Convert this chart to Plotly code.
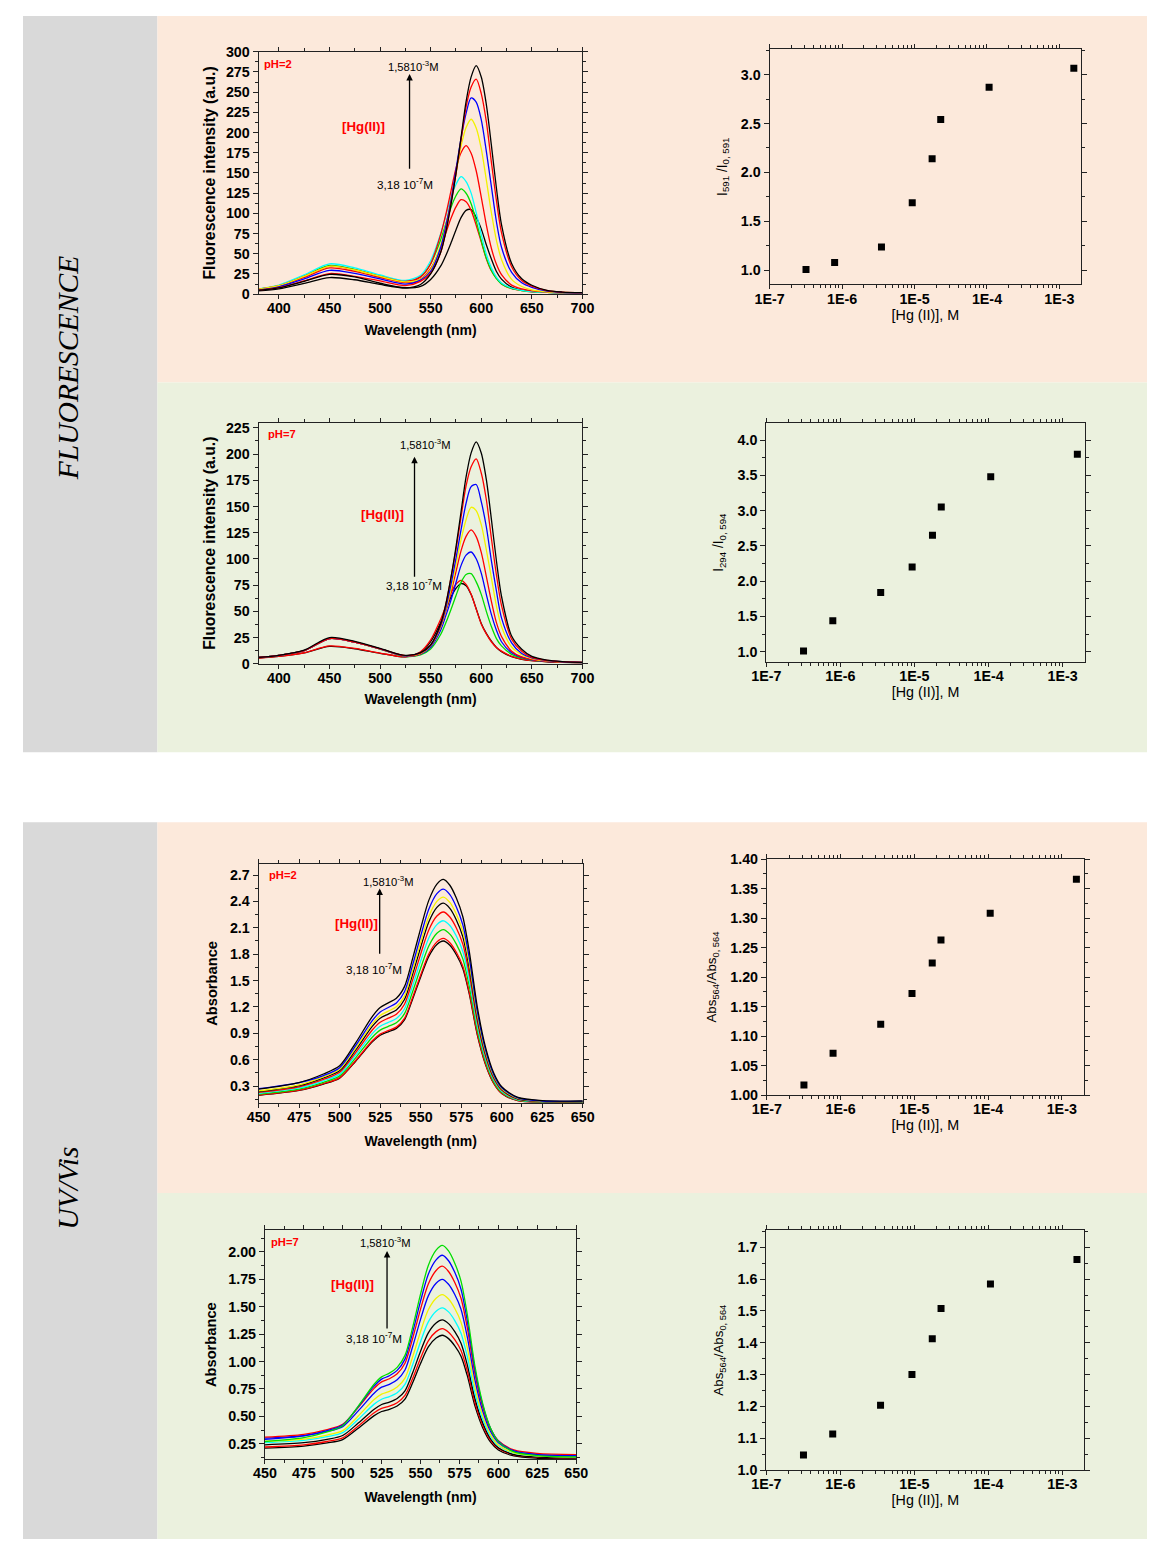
import plotly.graph_objects as go

# Figure size (fits the window together with the page margin)
W, H = 1151, 1539
# measured mapping of figure pixels to the photographed picture: pic = A + S * fig
AX, SX = 21.0, 0.981
AY, SY = 15.0, 0.988

# ------------------------------------------------------------------ data
# Fluorescence spectra (wavelength grid, nm)
fl_wl = [380, 400, 425, 450, 475, 500, 525, 540, 550, 560, 565, 570, 575, 580, 585,
         590, 595, 600, 605, 610, 615, 620, 630, 640, 650, 665, 680, 700]

# pH = 2, from lowest [Hg(II)] to highest
fl2_black1 = [4.2, 6.6, 13.3, 20.5, 17.8, 12.0, 7.5, 9.5, 18.1, 34.9, 47.9, 63.1, 79.4, 94.7, 103.7, 104.6, 95.2, 80.8, 61.1, 43.5, 28.0, 18.6, 8.6, 4.9, 3.2, 2.2, 1.8, 1.6]
fl2_red1 = [5.8, 9.9, 20.7, 32.5, 28.2, 20.6, 14.4, 18.6, 31.8, 57.9, 75.6, 93.5, 108.0, 116.9, 114.3, 103.7, 85.3, 64.7, 43.9, 28.9, 19.7, 12.7, 6.8, 4.4, 2.9, 2.2, 1.8, 1.6]
fl2_green = [6.3, 10.7, 22.6, 35.5, 30.7, 22.4, 15.9, 21.6, 37.5, 67.6, 87.1, 106.9, 121.8, 130.2, 124.9, 111.9, 90.3, 66.2, 44.6, 29.4, 19.1, 12.6, 7.0, 4.5, 3.1, 2.3, 1.8, 1.6]
fl2_cyan = [6.5, 11.2, 23.8, 37.5, 32.5, 23.7, 16.9, 23.5, 41.4, 75.3, 97.2, 119.3, 135.8, 145.4, 139.4, 125.0, 100.8, 73.8, 49.6, 32.5, 21.1, 13.9, 7.6, 4.8, 3.3, 2.3, 1.8, 1.6]
fl2_red2 = [6.1, 10.4, 22.0, 34.5, 29.9, 22.0, 15.7, 21.4, 37.7, 74.2, 98.7, 127.2, 155.7, 175.1, 183.8, 174.5, 152.7, 120.2, 85.8, 56.8, 36.9, 24.1, 11.2, 6.5, 4.0, 2.5, 2.0, 1.7]
fl2_yellow = [6.1, 10.4, 22.0, 34.5, 29.9, 21.9, 15.3, 18.4, 30.5, 61.2, 86.0, 115.6, 149.3, 183.0, 206.2, 216.5, 205.7, 180.0, 141.5, 100.8, 66.6, 43.0, 18.2, 9.5, 5.4, 3.0, 2.1, 1.7]
fl2_blue = [5.4, 9.1, 18.9, 29.5, 25.6, 18.8, 12.5, 17.4, 28.1, 58.3, 84.5, 115.6, 154.0, 192.5, 223.7, 242.8, 237.7, 215.9, 177.0, 133.3, 89.6, 58.0, 27.0, 14.0, 8.5, 3.8, 2.3, 1.7]
fl2_red3 = [4.9, 8.0, 16.4, 25.5, 22.1, 16.4, 10.5, 15.8, 25.9, 52.1, 78.0, 112.1, 148.9, 190.8, 231.6, 256.3, 266.0, 248.2, 213.8, 163.5, 115.8, 76.1, 34.0, 17.0, 10.0, 4.5, 2.5, 1.8]
fl2_black2 = [4.7, 7.7, 15.8, 24.5, 21.3, 13.5, 8.0, 12.0, 25.0, 52.1, 76.8, 110.2, 149.2, 193.7, 238.3, 268.9, 282.8, 268.7, 234.9, 184.4, 131.1, 86.2, 38.0, 19.0, 11.0, 4.6, 2.6, 1.8]

# pH = 7
fl7_black1 = [5.5, 7.0, 10.3, 16.5, 14.3, 10.0, 6.5, 10.8, 21.0, 39.5, 51.5, 63.5, 72.0, 76.5, 74.5, 66.0, 52.5, 38.5, 29.0, 21.5, 15.5, 11.5, 6.8, 4.3, 2.9, 1.9, 1.4, 1.1]
fl7_red1 = [5.5, 7.0, 10.5, 17.0, 14.6, 10.2, 6.7, 11.5, 22.7, 42.7, 55.0, 67.3, 75.8, 79.6, 75.7, 66.2, 52.1, 38.0, 28.5, 21.0, 15.5, 12.0, 7.0, 4.5, 3.0, 2.0, 1.5, 1.2]
fl7_green = [6.0, 8.0, 12.5, 24.0, 20.6, 14.0, 7.0, 8.5, 14.1, 28.1, 39.0, 51.5, 64.9, 77.6, 85.1, 85.9, 78.1, 66.2, 50.0, 35.5, 24.0, 17.0, 9.0, 5.5, 3.5, 2.2, 1.5, 1.1]
fl7_blue1 = [6.0, 8.0, 12.5, 24.0, 20.6, 14.1, 7.3, 9.1, 15.8, 32.3, 45.9, 60.5, 77.3, 93.6, 103.6, 106.6, 100.2, 86.4, 66.2, 47.1, 32.0, 21.0, 10.5, 6.0, 3.8, 2.3, 1.6, 1.1]
fl7_red2 = [6.0, 8.0, 12.5, 24.0, 20.6, 14.2, 7.5, 9.5, 17.0, 35.4, 50.3, 67.7, 87.7, 107.7, 121.5, 127.7, 121.3, 106.2, 83.4, 59.5, 39.2, 26.0, 12.0, 6.5, 4.0, 2.4, 1.6, 1.1]
fl7_yellow = [6.0, 8.0, 12.5, 24.0, 20.6, 14.2, 7.5, 9.8, 17.1, 35.4, 51.6, 70.7, 94.4, 118.1, 137.4, 149.2, 146.1, 132.7, 108.8, 82.0, 55.0, 35.6, 16.0, 8.7, 5.0, 2.8, 1.8, 1.2]
fl7_blue2 = [6.0, 8.0, 12.5, 24.0, 20.6, 14.2, 7.6, 10.3, 17.6, 36.6, 53.4, 75.3, 100.6, 127.7, 153.1, 169.0, 171.0, 154.6, 130.7, 98.4, 69.4, 43.8, 20.0, 9.7, 5.5, 3.0, 1.9, 1.2]
fl7_red3 = [6.0, 8.0, 12.5, 24.0, 20.6, 14.2, 7.7, 10.4, 18.0, 37.5, 56.7, 81.7, 108.7, 139.6, 169.6, 187.9, 195.5, 182.0, 156.7, 119.8, 84.8, 55.6, 23.5, 11.9, 6.0, 3.2, 2.0, 1.3]
fl7_black2 = [6.0, 8.0, 13.0, 25.0, 21.4, 14.7, 7.9, 10.6, 17.9, 38.4, 57.0, 82.0, 111.3, 144.8, 178.2, 201.2, 211.7, 201.1, 175.8, 138.0, 98.0, 64.4, 26.4, 13.8, 7.0, 3.5, 2.1, 1.3]

# UV/Vis spectra
uv_wl = [450, 475, 490, 500, 510, 520, 525, 530, 535, 540, 545, 550, 555, 560, 564,
         568, 572, 576, 580, 585, 590, 595, 600, 610, 625, 650]

# pH = 2, from highest to lowest peak
uv2_black1 = [0.265, 0.339, 0.437, 0.530, 0.795, 1.087, 1.193, 1.246, 1.299, 1.431, 1.749, 2.094, 2.412, 2.597, 2.650, 2.584, 2.438, 2.226, 1.829, 1.193, 0.742, 0.451, 0.292, 0.170, 0.135, 0.130]
uv2_blue = [0.270, 0.340, 0.419, 0.508, 0.762, 1.041, 1.143, 1.194, 1.245, 1.372, 1.676, 2.007, 2.311, 2.489, 2.540, 2.477, 2.337, 2.134, 1.753, 1.143, 0.711, 0.432, 0.279, 0.165, 0.130, 0.128]
uv2_yellow = [0.245, 0.314, 0.404, 0.490, 0.735, 1.005, 1.103, 1.152, 1.201, 1.323, 1.617, 1.936, 2.230, 2.401, 2.450, 2.389, 2.254, 2.058, 1.691, 1.103, 0.686, 0.417, 0.270, 0.160, 0.128, 0.125]
uv2_black2 = [0.238, 0.305, 0.393, 0.476, 0.714, 0.976, 1.071, 1.119, 1.166, 1.285, 1.571, 1.880, 2.166, 2.332, 2.380, 2.321, 2.190, 1.999, 1.642, 1.071, 0.666, 0.405, 0.262, 0.155, 0.125, 0.122]
uv2_red1 = [0.228, 0.292, 0.376, 0.456, 0.684, 0.935, 1.026, 1.072, 1.117, 1.231, 1.505, 1.801, 2.075, 2.234, 2.280, 2.223, 2.098, 1.915, 1.573, 1.026, 0.638, 0.388, 0.251, 0.150, 0.122, 0.120]
uv2_cyan = [0.218, 0.279, 0.360, 0.436, 0.654, 0.894, 0.981, 1.025, 1.068, 1.177, 1.439, 1.722, 1.984, 2.136, 2.180, 2.126, 2.006, 1.831, 1.504, 0.981, 0.610, 0.371, 0.240, 0.145, 0.120, 0.118]
uv2_green = [0.208, 0.266, 0.343, 0.416, 0.624, 0.853, 0.936, 0.978, 1.019, 1.123, 1.373, 1.643, 1.893, 2.038, 2.080, 2.028, 1.914, 1.747, 1.435, 0.936, 0.582, 0.354, 0.229, 0.140, 0.118, 0.116]
uv2_red2 = [0.198, 0.253, 0.327, 0.396, 0.594, 0.812, 0.891, 0.931, 0.970, 1.069, 1.307, 1.564, 1.802, 1.940, 1.980, 1.931, 1.822, 1.663, 1.366, 0.891, 0.554, 0.337, 0.218, 0.135, 0.116, 0.115]
uv2_black3 = [0.195, 0.250, 0.322, 0.390, 0.585, 0.800, 0.878, 0.917, 0.956, 1.053, 1.287, 1.541, 1.775, 1.911, 1.950, 1.901, 1.794, 1.638, 1.346, 0.878, 0.546, 0.332, 0.215, 0.133, 0.115, 0.114]

# pH = 7, from highest to lowest peak
uv7_green = [0.270, 0.306, 0.358, 0.414, 0.593, 0.790, 0.860, 0.894, 0.947, 1.056, 1.316, 1.615, 1.877, 2.016, 2.060, 2.009, 1.896, 1.734, 1.433, 0.953, 0.614, 0.391, 0.269, 0.176, 0.142, 0.130]
uv7_blue1 = [0.290, 0.322, 0.369, 0.421, 0.588, 0.773, 0.839, 0.870, 0.919, 1.022, 1.269, 1.551, 1.797, 1.928, 1.970, 1.920, 1.814, 1.660, 1.376, 0.922, 0.600, 0.389, 0.273, 0.185, 0.151, 0.140]
uv7_red1 = [0.310, 0.336, 0.379, 0.427, 0.582, 0.753, 0.814, 0.843, 0.888, 0.984, 1.215, 1.478, 1.708, 1.831, 1.870, 1.822, 1.722, 1.578, 1.312, 0.886, 0.583, 0.385, 0.277, 0.193, 0.161, 0.150]
uv7_blue2 = [0.300, 0.323, 0.362, 0.406, 0.550, 0.709, 0.766, 0.792, 0.834, 0.923, 1.139, 1.385, 1.599, 1.714, 1.750, 1.705, 1.611, 1.477, 1.227, 0.829, 0.546, 0.361, 0.259, 0.181, 0.151, 0.140]
uv7_yellow = [0.270, 0.292, 0.329, 0.369, 0.503, 0.651, 0.702, 0.727, 0.767, 0.849, 1.046, 1.273, 1.472, 1.577, 1.610, 1.570, 1.484, 1.359, 1.130, 0.763, 0.504, 0.333, 0.239, 0.167, 0.140, 0.130]
uv7_cyan = [0.260, 0.280, 0.314, 0.351, 0.473, 0.609, 0.656, 0.680, 0.715, 0.791, 0.973, 1.181, 1.362, 1.459, 1.490, 1.453, 1.374, 1.259, 1.048, 0.712, 0.473, 0.317, 0.231, 0.164, 0.139, 0.130]
uv7_black1 = [0.240, 0.259, 0.290, 0.325, 0.438, 0.563, 0.608, 0.629, 0.662, 0.732, 0.900, 1.094, 1.262, 1.352, 1.380, 1.346, 1.272, 1.167, 0.972, 0.659, 0.438, 0.293, 0.213, 0.151, 0.129, 0.120]
uv7_red2 = [0.220, 0.240, 0.270, 0.303, 0.411, 0.530, 0.572, 0.592, 0.624, 0.690, 0.848, 1.030, 1.189, 1.273, 1.300, 1.268, 1.199, 1.100, 0.917, 0.624, 0.417, 0.281, 0.206, 0.149, 0.127, 0.120]
uv7_black2 = [0.210, 0.228, 0.257, 0.288, 0.391, 0.504, 0.544, 0.563, 0.594, 0.657, 0.808, 0.982, 1.134, 1.214, 1.240, 1.209, 1.143, 1.049, 0.873, 0.593, 0.394, 0.264, 0.193, 0.138, 0.117, 0.110]

# Titration curves
hg_conc = [3.18e-7, 7.9e-7, 3.5e-6, 9.3e-6, 1.75e-5, 2.3e-5, 1.07e-4, 1.58e-3]
fl2_ratio = [1.01, 1.08, 1.24, 1.69, 2.14, 2.54, 2.87, 3.065]
fl7_ratio = [1.01, 1.44, 1.84, 2.20, 2.65, 3.05, 3.48, 3.80]
uv2_ratio = [1.017, 1.071, 1.120, 1.172, 1.224, 1.263, 1.308, 1.366]
uv7_ratio = [1.047, 1.113, 1.204, 1.300, 1.413, 1.508, 1.585, 1.662]

log_tickvals = [1e-7, 1e-6, 1e-5, 1e-4, 1e-3]
log_ticktext = ["1E-7", "1E-6", "1E-5", "1E-4", "1E-3"]

# ------------------------------------------------------------------ styling
BLACK, RED, GREEN, CYAN, BLUE, YELLOW = "#000000", "#FF0000", "#00DD00", "#00FFFF", "#0000FF", "#F2F200"
PEACH, LGREEN, GRAY = "#FCE9DB", "#EBF1DE", "#D9D9D9"
FONT = "Arial, Liberation Sans, sans-serif"
AXCOL = "#222222"
FS = 1.0 / SX  # font compensation


def px_x(x):
    return ((x - AX) / SX) / W


def px_y(y):
    return 1 - ((y - AY) / SY) / H


def fnt(size, bold=False, color="black", family=FONT):
    return dict(family=family, size=round(size * FS, 1), color=color, weight="bold" if bold else "normal")


fig = go.Figure()

spectra_sets = [
    (1, fl_wl, [(fl2_black1, BLACK), (fl2_red1, RED), (fl2_green, GREEN), (fl2_cyan, CYAN),
                (fl2_red2, RED), (fl2_yellow, YELLOW), (fl2_blue, BLUE), (fl2_red3, RED), (fl2_black2, BLACK)]),
    (3, fl_wl, [(fl7_black1, BLACK), (fl7_red1, RED), (fl7_green, GREEN), (fl7_blue1, BLUE),
                (fl7_red2, RED), (fl7_yellow, YELLOW), (fl7_blue2, BLUE), (fl7_red3, RED), (fl7_black2, BLACK)]),
    (5, uv_wl, [(uv2_black3, BLACK), (uv2_red2, RED), (uv2_green, GREEN), (uv2_cyan, CYAN), (uv2_red1, RED),
                (uv2_black2, BLACK), (uv2_yellow, YELLOW), (uv2_blue, BLUE), (uv2_black1, BLACK)]),
    (7, uv_wl, [(uv7_black2, BLACK), (uv7_red2, RED), (uv7_black1, BLACK), (uv7_cyan, CYAN), (uv7_yellow, YELLOW),
                (uv7_blue2, BLUE), (uv7_red1, RED), (uv7_blue1, BLUE), (uv7_green, GREEN)]),
]
for idx, wl, curves in spectra_sets:
    for ys, col in curves:
        fig.add_trace(go.Scatter(x=wl, y=ys, mode="lines",
                                 line=dict(color=col, width=1.3, shape="spline", smoothing=0.8),
                                 xaxis=f"x{idx}", yaxis=f"y{idx}", showlegend=False, hoverinfo="skip"))

for idx, ys in [(2, fl2_ratio), (4, fl7_ratio), (6, uv2_ratio), (8, uv7_ratio)]:
    fig.add_trace(go.Scatter(x=hg_conc, y=ys, mode="markers",
                             marker=dict(symbol="square", size=7, color="black"),
                             xaxis=f"x{idx}", yaxis=f"y{idx}", showlegend=False))

# axis frames: (left, right, top, bottom) in picture pixels
frames = {
    1: (257.7, 583.0, 50.7, 292.7),
    2: (771.0, 1084.0, 48.0, 283.0),
    3: (257.7, 583.0, 421.0, 661.7),
    4: (767.7, 1087.7, 421.7, 660.0),
    5: (257.7, 583.3, 861.7, 1100.0),
    6: (768.3, 1086.7, 856.7, 1092.3),
    7: (264.0, 576.7, 1227.3, 1455.7),
    8: (767.7, 1087.3, 1227.3, 1466.7),
}

minor_log = [m * 10 ** e for e in range(-7, -2) for m in range(2, 10)]

tickf = fnt(14, True)
common = dict(showline=True, linecolor=AXCOL, linewidth=1, mirror="allticks", ticks="outside",
              ticklen=5, tickcolor=AXCOL, showgrid=False, zeroline=False, tickfont=tickf)


def mnr(d):
    return dict(dtick=d, ticks="outside", ticklen=3, tickcolor=AXCOL)


layout_axes = {}
for idx, (l, r, t, b) in frames.items():
    xd = [px_x(l), px_x(r)]
    yd = [px_y(b), px_y(t)]
    xa = dict(common, domain=xd, anchor=f"y{idx}", ticklen=4, ticklabelstandoff=-3)
    ya = dict(common, domain=yd, anchor=f"x{idx}")
    if idx in (1, 3):
        xa.update(range=[380, 700], dtick=50, tick0=400, minor=mnr(25),
                  title=dict(text="Wavelength (nm)", font=fnt(13.7, True), standoff=9))
        ya.update(range=[0, 300 if idx == 1 else 230], dtick=25, tick0=0, minor=mnr(12.5),
                  title=dict(text="Fluorescence intensity (a.u.)", font=fnt(15.5, True), standoff=6))
    elif idx in (5, 7):
        xa.update(range=[450, 650], dtick=25, tick0=450, minor=mnr(12.5),
                  title=dict(text="Wavelength (nm)", font=fnt(13.7, True), standoff=12))
        if idx == 5:
            ya.update(range=[0.11, 2.825], dtick=0.3, tick0=0.3, tickformat=".1f", minor=mnr(0.15))
        else:
            ya.update(range=[0.11, 2.198], dtick=0.25, tick0=0.25, tickformat=".2f", minor=mnr(0.125))
        ya.update(title=dict(text="Absorbance", font=fnt(14.4, True), standoff=8))
    else:
        xa.update(type="log", range=[-7, -2.7], tickmode="array", tickvals=log_tickvals, ticktext=log_ticktext,
                  minor=dict(tickmode="array", tickvals=minor_log, ticks="outside", ticklen=3, tickcolor=AXCOL),
                  title=dict(text="[Hg (II)], M", font=fnt(14), standoff=3))
        if idx == 2:
            ya.update(range=[0.857, 3.26], dtick=0.5, tick0=1.0, tickformat=".1f", minor=mnr(0.25),
                      title=dict(text="I<sub>591</sub> /I<sub>0, 591</sub>", font=fnt(13.5), standoff=10))
        elif idx == 4:
            ya.update(range=[0.853, 4.237], dtick=0.5, tick0=1.0, tickformat=".1f", minor=mnr(0.25),
                      title=dict(text="I<sub>294</sub> /I<sub>0, 594</sub>", font=fnt(13.5), standoff=10))
        elif idx == 6:
            ya.update(range=[1.0, 1.40], dtick=0.05, tick0=1.0, tickformat=".2f", minor=mnr(0.025),
                      title=dict(text="Abs<sub>564</sub>/Abs<sub>0, 564</sub>", font=fnt(13), standoff=10))
        else:
            ya.update(range=[1.0, 1.7535], dtick=0.1, tick0=1.0, tickformat=".1f", minor=mnr(0.05),
                      title=dict(text="Abs<sub>564</sub>/Abs<sub>0, 564</sub>", font=fnt(13), standoff=10))
    name = "" if idx == 1 else str(idx)
    layout_axes[f"xaxis{name}"] = xa
    layout_axes[f"yaxis{name}"] = ya

# background panels
shapes = []


def rect(x0, y0, x1, y1, col):
    shapes.append(dict(type="rect", xref="paper", yref="paper", x0=max(px_x(x0), 0), x1=min(px_x(x1), 1),
                       y0=max(px_y(y1), 0), y1=min(px_y(y0), 1), fillcolor=col, line=dict(width=0), layer="below"))


rect(7, 11, 156, 750, GRAY)
rect(156, 11, 1159, 381, PEACH)
rect(156, 381, 1159, 750, LGREEN)
rect(7, 820, 156, 1547, GRAY)
rect(156, 820, 1159, 1190, PEACH)
rect(156, 1190, 1159, 1547, LGREEN)

annotations = []


def text(x, y, s, size=11, color="black", bold=False, xanchor="center"):
    annotations.append(dict(xref="paper", yref="paper", x=px_x(x), y=px_y(y), text=s, showarrow=False,
                            xanchor=xanchor, yanchor="middle", font=fnt(size, bold, color)))


def arrow(x, y_head, y_tail):
    annotations.append(dict(xref="paper", yref="paper", x=px_x(x), y=px_y(y_head), ax=0,
                            ay=(y_tail - y_head) / SY, axref="pixel", ayref="pixel", text="", showarrow=True,
                            arrowhead=2, arrowsize=1, arrowwidth=1.3, arrowcolor="black"))


hi_txt = "1,5810<sup>-3</sup>M"
lo_txt = "3,18 10<sup>-7</sup>M"
hg_txt = "[Hg(II)]"

# panel 1
text(261, 62.5, "pH=2", 11, RED, True, "left")
text(413, 65, hi_txt, 11)
arrow(409.3, 73, 168)
text(363, 125, hg_txt, 13, RED, True)
text(405, 183, lo_txt, 11.5)
# panel 3
text(265, 432.5, "pH=7", 11, RED, True, "left")
text(425, 442, hi_txt, 11)
arrow(414.3, 455, 575)
text(382, 513, hg_txt, 13, RED, True)
text(414, 583, lo_txt, 11.5)
# panel 5
text(266, 872.5, "pH=2", 11, RED, True, "left")
text(388, 879, hi_txt, 11)
arrow(379.3, 886, 952)
text(356, 921, hg_txt, 13, RED, True)
text(374, 966.5, lo_txt, 11.5)
# panel 7
text(268, 1239, "pH=7", 11, RED, True, "left")
text(385, 1239, hi_txt, 11)
arrow(386.7, 1248, 1326)
text(352, 1281.5, hg_txt, 13, RED, True)
text(374, 1335, lo_txt, 11.5)

# side labels
serif = "Liberation Serif, Times New Roman, serif"
annotations.append(dict(xref="paper", yref="paper", x=px_x(66), y=px_y(366), text="<i>FLUORESCENCE</i>",
                        showarrow=False, textangle=-90, xanchor="center", yanchor="middle",
                        font=fnt(29, False, "black", serif)))
annotations.append(dict(xref="paper", yref="paper", x=px_x(66), y=px_y(1185), text="<i>UV/Vis</i>",
                        showarrow=False, textangle=-90, xanchor="center", yanchor="middle",
                        font=fnt(29, False, "black", serif)))

fig.update_layout(width=W, height=H, autosize=False, margin=dict(l=0, r=0, t=0, b=0),
                  paper_bgcolor="white", plot_bgcolor="rgba(0,0,0,0)",
                  shapes=shapes, annotations=annotations, showlegend=False,
                  font=dict(family=FONT), **layout_axes)

fig.write_html("out.html")
